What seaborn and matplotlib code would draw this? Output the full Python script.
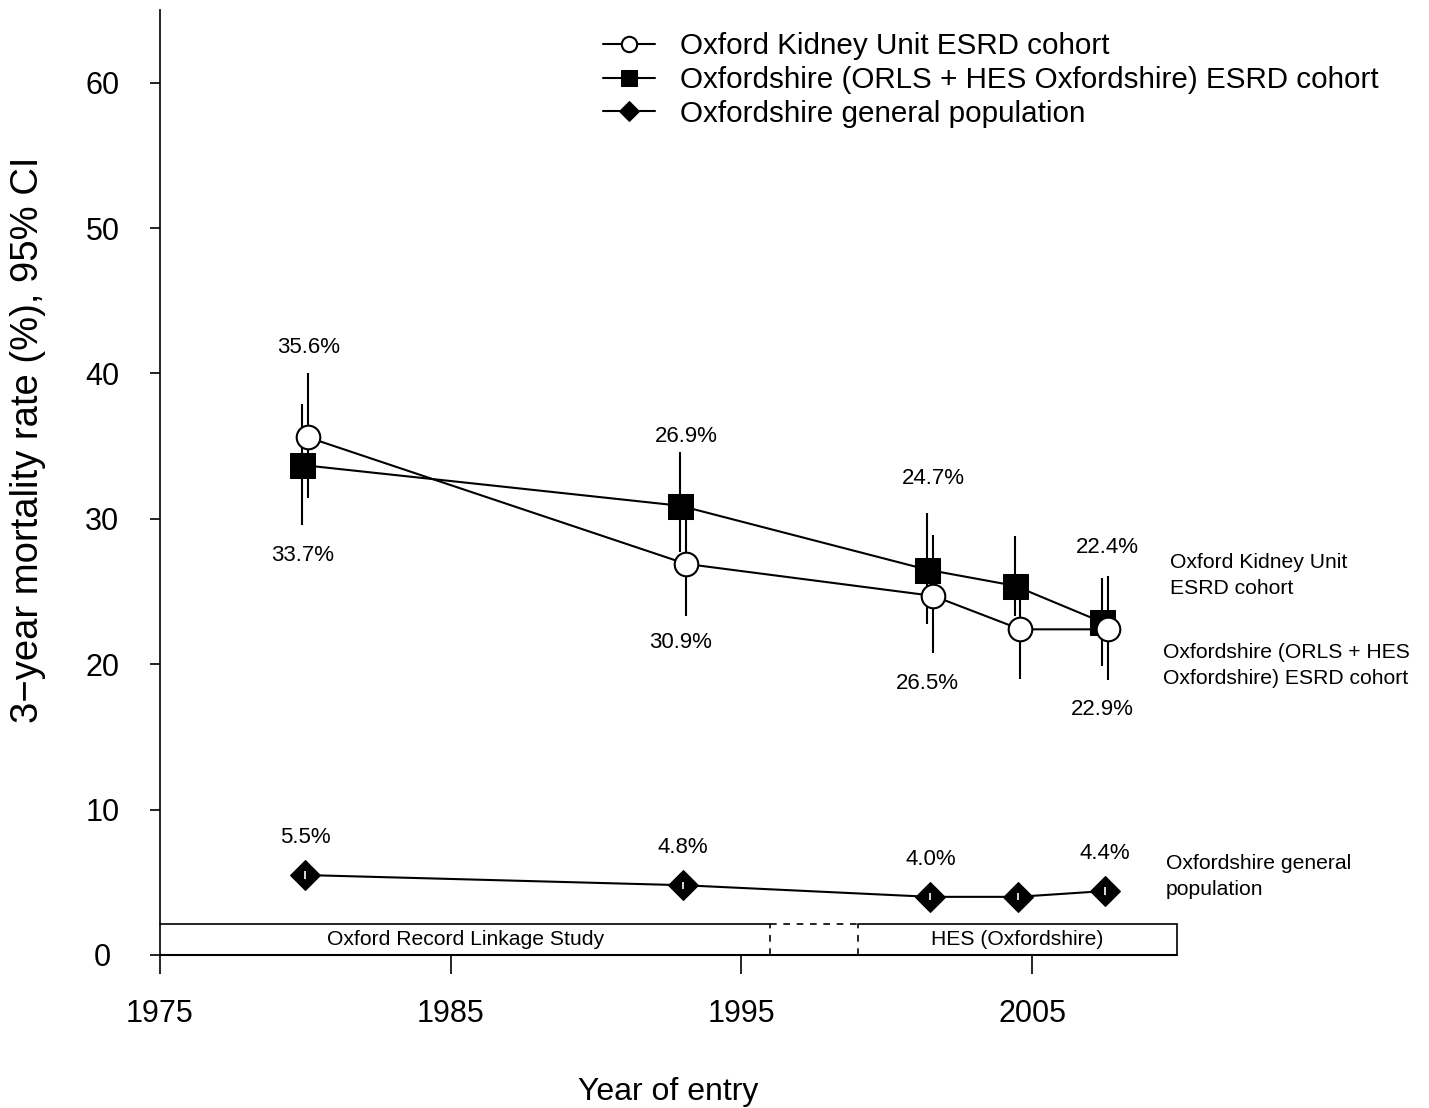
import numpy as np
import pandas as pd
import matplotlib
matplotlib.use("Agg")
import matplotlib.pyplot as plt
import seaborn as sns

# year of entry (cohort mid-points)
years = [1980, 1993, 2001.5, 2004.5, 2007.5]

# Oxford Kidney Unit ESRD cohort
kidney_rate = [35.6, 26.9, 24.7, 22.4, 22.4]
kidney_lo = [31.4, 23.3, 20.8, 19.0, 18.9]
kidney_hi = [40.0, 30.2, 28.9, 24.7, 26.1]

# Oxfordshire (ORLS + HES Oxfordshire) ESRD cohort
oxon_rate = [33.7, 30.9, 26.5, 25.4, 22.9]
oxon_lo = [29.6, 27.7, 22.8, 23.3, 19.9]
oxon_hi = [37.9, 34.6, 30.4, 28.8, 25.9]

# Oxfordshire general population
gen_rate = [5.5, 4.8, 4.0, 4.0, 4.4]
gen_lo = [5.25, 4.55, 3.75, 3.75, 4.15]
gen_hi = [5.75, 5.05, 4.25, 4.25, 4.65]

# which points get a % label
labelled = [0, 1, 2, 4]

# data source periods
orls_period = [1975, 1996]
gap_period = [1996, 1999]
hes_period = [1999, 2010]

series_names = ["Oxford Kidney Unit ESRD cohort",
                "Oxfordshire (ORLS + HES Oxfordshire) ESRD cohort",
                "Oxfordshire general population"]

sns.set_theme(style="ticks")
plt.rcParams['font.family'] = ['Liberation Sans', 'DejaVu Sans']
plt.rcParams['text.color'] = 'black'
plt.rcParams['axes.labelcolor'] = 'black'
plt.rcParams['xtick.color'] = 'black'
plt.rcParams['ytick.color'] = 'black'

fig = plt.figure(figsize=(14.29, 11.08), dpi=100)
ax = fig.add_axes([160/1429, 153/1108, 1260/1429, 945/1108])

yrs = np.array(years)
dx = 0.1  # small horizontal dodge so bars don't overlap
kx = yrs + dx
ox = yrs - dx

# confidence intervals
ax.vlines(kx, kidney_lo, kidney_hi, color="black", lw=1.5, zorder=2)
ax.vlines(ox, oxon_lo, oxon_hi, color="black", lw=1.5, zorder=2)

sns.lineplot(x=ox, y=oxon_rate, ax=ax, color="black", lw=1.5, marker="s",
             markersize=18, markerfacecolor="black", markeredgecolor="black",
             label=series_names[1], zorder=3)
sns.lineplot(x=kx, y=kidney_rate, ax=ax, color="black", lw=1.5, marker="o",
             markersize=17, markerfacecolor="white", markeredgecolor="black",
             markeredgewidth=1.5, label=series_names[0], zorder=4)
sns.lineplot(x=yrs, y=gen_rate, ax=ax, color="black", lw=1.5, marker="D",
             markersize=15, markerfacecolor="black", markeredgecolor="black",
             label=series_names[2], zorder=3)
ax.vlines(yrs, gen_lo, gen_hi, color="white", lw=1.2, zorder=5)

# % labels
above_y = [41.8, 35.65, 32.8, 28.0]
below_y = [27.5, 21.5, 18.65, 16.9]
for j, i in enumerate(labelled):
    ax.text(kx[i], above_y[j], f"{kidney_rate[i]:.1f}%", ha="center", va="center", fontsize=16)
    ax.text(ox[i], below_y[j], f"{oxon_rate[i]:.1f}%", ha="center", va="center", fontsize=16)
    ax.text(yrs[i], gen_rate[i] + 2.6, f"{gen_rate[i]:.1f}%", ha="center", va="center", fontsize=16)

# series labels on the right
side_kw = dict(ha="left", va="center", fontsize=15.2, linespacing=1.45)
ax.text(2009.75, 26.1, "Oxford Kidney Unit\nESRD cohort", **side_kw)
ax.text(2009.5, 19.9, "Oxfordshire (ORLS + HES\nOxfordshire) ESRD cohort", **side_kw)
ax.text(2009.6, 5.4, "Oxfordshire general\npopulation", **side_kw)

# data source box along the bottom
box_top = 2.13
ax.plot(orls_period, [box_top, box_top], color="black", lw=1.2, clip_on=False)
ax.plot(gap_period, [box_top, box_top], color="black", lw=1.2, ls=(0, (4, 4)), clip_on=False)
ax.plot(hes_period, [box_top, box_top], color="black", lw=1.2, clip_on=False)
ax.plot([orls_period[0], hes_period[1]], [0, 0], color="black", lw=1.5, clip_on=False)
ax.plot([hes_period[1], hes_period[1]], [0, box_top], color="black", lw=1.2, clip_on=False)
ax.vlines(gap_period, 0, box_top, color="black", lw=1.2, linestyles=(0, (4, 4)))
ax.text(np.mean(orls_period), box_top / 2, "Oxford Record Linkage Study",
        ha="center", va="center", fontsize=15.2)
ax.text(np.mean(hes_period), box_top / 2, "HES (Oxfordshire)",
        ha="center", va="center", fontsize=15.2)

ax.set_xlim(1975, 1975 + 1260 / 29.07)
ax.set_ylim(0, 65)
ax.set_xticks([1975, 1985, 1995, 2005])
ax.set_yticks([0, 10, 20, 30, 40, 50, 60])
ax.tick_params(axis="x", length=14, width=1.2, pad=18, labelsize=22)
ax.tick_params(axis="y", length=7.5, width=1.2, pad=34, labelsize=22)
plt.setp(ax.get_yticklabels(), ha="center")
ax.spines["top"].set_visible(False)
ax.spines["right"].set_visible(False)
ax.spines["bottom"].set_visible(False)
ax.spines["left"].set_linewidth(1.2)
ax.spines["left"].set_color("black")

ax.set_xlabel("Year of entry", fontsize=23)
ax.xaxis.set_label_coords((668 - 160) / 1260, -(1092 - 955) / 945)
ax.xaxis.label.set_va("center")
ax.set_ylabel("3\u2212year mortality rate (%), 95% CI", fontsize=27.5)
ax.yaxis.set_label_coords((28 - 160) / 1260, (955 - 440) / 945)
ax.yaxis.label.set_va("center")

handles, labels = ax.get_legend_handles_labels()
order = [labels.index(n) for n in series_names]
ax.legend([handles[i] for i in order], [labels[i] for i in order],
          loc="upper left", bbox_to_anchor=(603 / 1429, 1 - 32 / 1108),
          bbox_transform=fig.transFigure, frameon=False, fontsize=21.3,
          markerscale=0.65, handlelength=1.75, handletextpad=0.85,
          labelspacing=0.2, borderpad=0, borderaxespad=0)

fig.savefig("out.png", dpi=100)
